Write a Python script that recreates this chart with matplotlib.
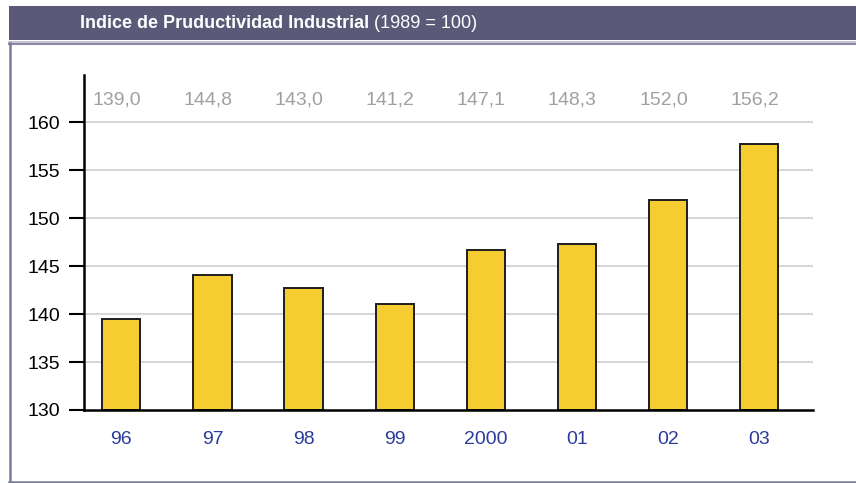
import matplotlib
matplotlib.use("Agg")
import matplotlib.pyplot as plt
from matplotlib.patches import Rectangle
from matplotlib.lines import Line2D

# data
years = ["96", "97", "98", "99", "2000", "01", "02", "03"]
bar_heights = [139.5, 144.1, 142.7, 141.0, 146.7, 147.3, 151.9, 157.7]
value_labels = ["139,0", "144,8", "143,0", "141,2", "147,1", "148,3", "152,0", "156,2"]
yticks = [130, 135, 140, 145, 150, 155, 160]

plt.rcParams['font.family'] = ['Liberation Sans', 'DejaVu Sans']

fig = plt.figure(figsize=(8.56, 4.83), dpi=100)
fig.patch.set_facecolor('white')

# header band + frame
fig.patches.append(Rectangle((9/856, 443/483), 1 - 9/856, 34/483,
                             transform=fig.transFigure, facecolor='#5a5a78',
                             edgecolor='none', zorder=0))
fig.lines.append(Line2D([9/856, 1], [441.5/483, 441.5/483], transform=fig.transFigure,
                        color='#c6c6d6', lw=1.5))
fig.lines.append(Line2D([9/856, 1], [439.5/483, 439.5/483], transform=fig.transFigure,
                        color='#8a8aa2', lw=1.5))
fig.lines.append(Line2D([10/856, 10/856], [1.5/483, 440/483], transform=fig.transFigure,
                        color='#7c7c9a', lw=1.8))
fig.lines.append(Line2D([9/856, 1], [1.5/483, 1.5/483], transform=fig.transFigure,
                        color='#7c7c9a', lw=1.8))

title_font = ['Liberation Sans Narrow', 'Liberation Sans', 'DejaVu Sans']
t1 = fig.text(80/856, 1 - 23/483, "Indice de Pruductividad Industrial", color='white',
              fontsize=13, fontweight='bold', family=title_font, va='center', ha='left')
fig.canvas.draw()
bb = t1.get_window_extent()
fig.text(bb.x1/856 + 5/856, 1 - 23/483, "(1989 = 100)", color='white',
         fontsize=13, family=title_font, va='center', ha='left')

ax = fig.add_axes([84/856, 73/483, 729/856, 335/483])
x = list(range(len(years)))
ax.bar(x, [h - 130 for h in bar_heights], bottom=130, width=0.42,
       color='#f5cd30', edgecolor='#1e1e1e', linewidth=1.4, zorder=3)

for xi, lab in zip(x, value_labels):
    ax.text(xi - 0.05, 162.3, lab, color='#a0a0a0', fontsize=14, ha='center', va='center')

ax.set_xlim(-0.41, 7.59)
ax.set_ylim(130, 164.9)
ax.set_yticks(yticks)
ax.set_xticks(x)
ax.set_xticklabels(years, color='#2a3c9e', fontsize=14)
ax.tick_params(axis='x', length=0, pad=15)
ax.tick_params(axis='y', length=11, width=1.5, pad=6, labelsize=14, colors='black')

for v in yticks[1:]:
    ax.axhline(v, color='#d6d6d6', lw=1.5, zorder=1)

for s in ['top', 'right']:
    ax.spines[s].set_visible(False)
ax.spines['left'].set_linewidth(1.8)
ax.spines['bottom'].set_linewidth(1.8)
ax.spines['left'].set_zorder(4)
ax.spines['bottom'].set_zorder(4)

plt.savefig("out.png", dpi=100)
